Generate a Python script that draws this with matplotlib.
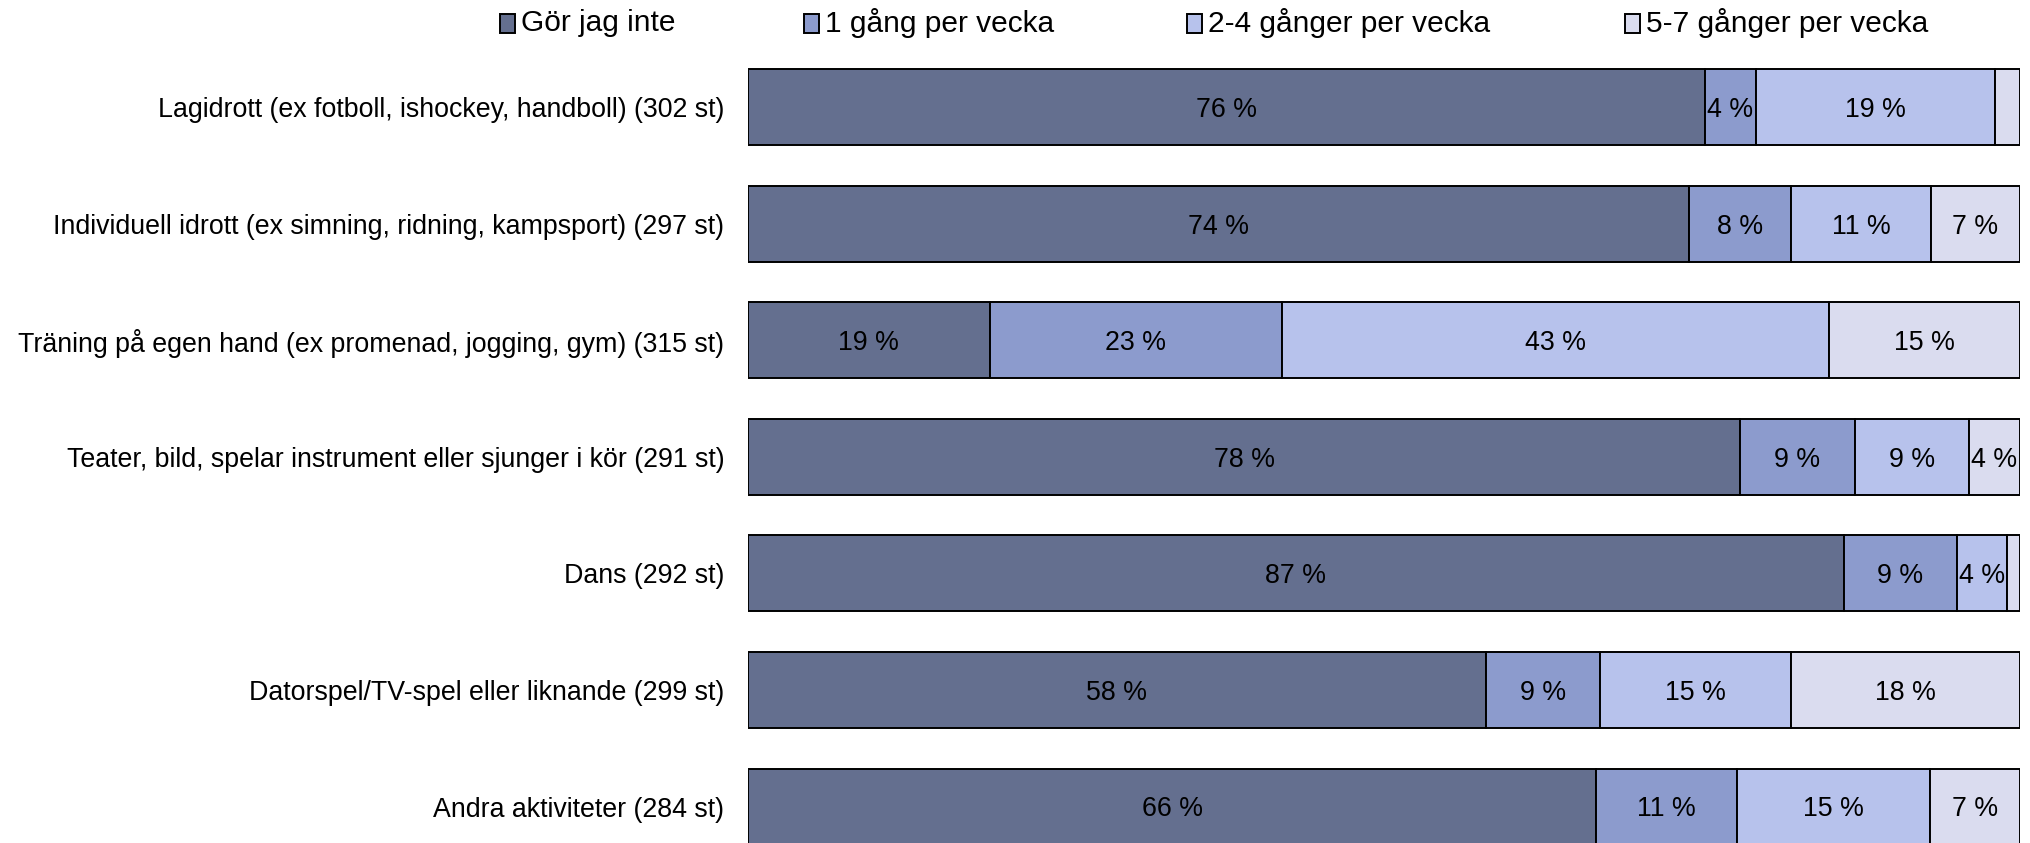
import matplotlib
matplotlib.use("Agg")
import matplotlib.pyplot as plt
from matplotlib.patches import Rectangle
import numpy as np

plt.rcParams['font.family'] = ['Liberation Sans', 'DejaVu Sans']

activities = ['Lagidrott (ex fotboll, ishockey, handboll) (302 st)',
              'Individuell idrott (ex simning, ridning, kampsport) (297 st)',
              'Träning på egen hand (ex promenad, jogging, gym) (315 st)',
              'Teater, bild, spelar instrument eller sjunger i kör (291 st)',
              'Dans (292 st)',
              'Datorspel/TV-spel eller liknande (299 st)',
              'Andra aktiviteter (284 st)']

series_names = ['Gör jag inte', '1 gång per vecka', '2-4 gånger per vecka', '5-7 gånger per vecka']

gor_inte = [76, 74, 19, 78, 87, 58, 66]
en_gang = [4, 8, 23, 9, 9, 9, 11]
två_fyra = [19, 11, 43, 9, 4, 15, 15]
fem_sju = [2, 7, 15, 4, 1, 18, 7]

colors = ['#646f8f', '#8c9bcd', '#b7c2ec', '#dadcef']

fig = plt.figure(figsize=(20.3, 8.43), dpi=100)
ax = fig.add_axes([748 / 2030, 0, (2020 - 748) / 2030, 1])

data = np.array([gor_inte, en_gang, två_fyra, fem_sju], dtype=float)
totals = data.sum(axis=0)
shares = data / totals * 100  # 100 % stacked, like the original sheet

y = np.arange(len(activities))
left = np.zeros(len(activities))
for k, name in enumerate(series_names):
    bars = ax.barh(y, shares[k], left=left, height=0.652, color=colors[k],
                   edgecolor='black', linewidth=1.4, label=name)
    labels = ['%d %%' % v if v >= 3 else '' for v in data[k]]
    txts = ax.bar_label(bars, labels=labels, label_type='center', fontsize=19.3, color='black')
    for t in txts:
        t.set_va('center_baseline')
    left += shares[k]

ax.set_xlim(0, 100)
ax.set_ylim(6.312, -0.918)
ax.set_yticks(y)
ax.set_yticklabels(activities, fontsize=19.3, va='center_baseline')
ax.tick_params(axis='y', length=0, pad=17)
ax.set_xticks([])
for s in ax.spines.values():
    s.set_visible(False)

# legend along the top
leg_x = [500, 804, 1187, 1625]
for k, name in enumerate(series_names):
    x0 = leg_x[k] / 2030
    fig.patches.append(Rectangle((x0, 1 - 33 / 843), 15 / 2030, 19 / 843,
                                 transform=fig.transFigure, facecolor=colors[k],
                                 edgecolor='black', linewidth=1.4))
    fig.text(x0 + 21 / 2030, 1 - 23 / 843, name, fontsize=21.5, va='center', ha='left')

fig.savefig('out.png', dpi=100)
